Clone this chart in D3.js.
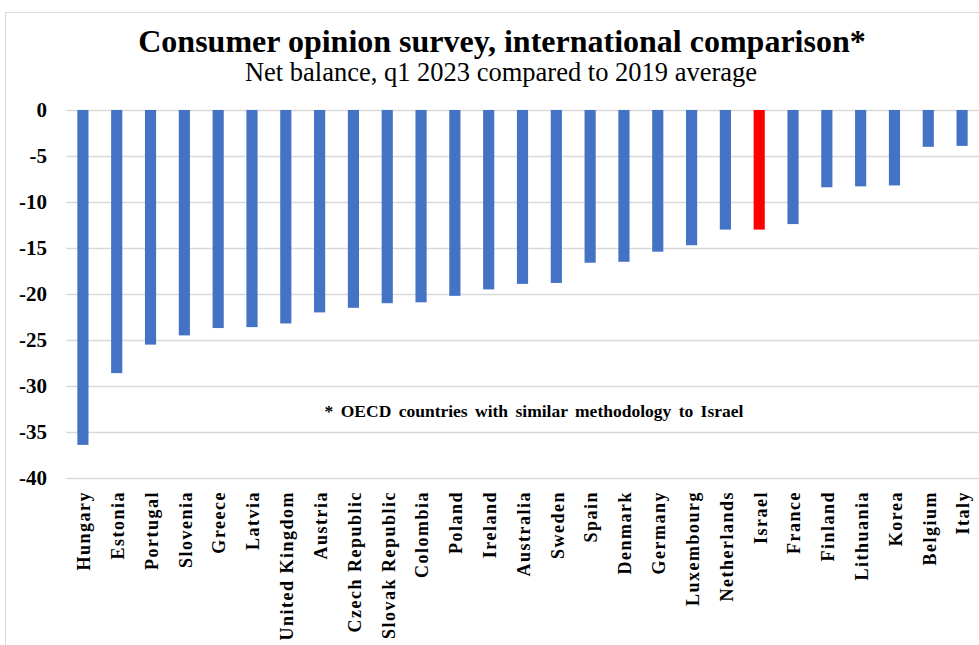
<!DOCTYPE html>
<html><head><meta charset="utf-8">
<script src="https://cdn.jsdelivr.net/npm/d3@7"></script>
<style>body{margin:0;background:#fff}svg{display:block}</style>
</head><body>
<svg id="c" width="979" height="645"></svg>
<script>
const categories = ["Hungary","Estonia","Portugal","Slovenia","Greece","Latvia","United Kingdom","Austria","Czech Republic","Slovak Republic","Colombia","Poland","Ireland","Australia","Sweden","Spain","Denmark","Germany","Luxembourg","Netherlands","Israel","France","Finland","Lithuania","Korea","Belgium","Italy"];
const values = [-36.4,-28.6,-25.5,-24.5,-23.7,-23.6,-23.2,-22.0,-21.5,-21.0,-20.9,-20.2,-19.5,-18.9,-18.8,-16.6,-16.5,-15.4,-14.7,-13.0,-13.0,-12.4,-8.4,-8.3,-8.2,-4.0,-3.9];
const highlight = "Israel";
const yTicks = [0,-5,-10,-15,-20,-25,-30,-35,-40];
const title = "Consumer opinion survey, international comparison*";
const subtitle = "Net balance, q1 2023 compared to 2019 average";
const note = "* OECD countries with similar methodology to Israel";

const svg = d3.select("#c");
const font = "'Liberation Serif','Times New Roman',serif";
svg.append("rect").attr("x",5.5).attr("y",12.5).attr("width",1000).attr("height",1000)
  .attr("fill","none").attr("stroke","#d9d9d9");

const x = d3.scaleBand().domain(categories).range([66,979]).paddingInner(0.67).paddingOuter(0.335);
const y = d3.scaleLinear().domain([-40,0]).range([478,110]);

const yAxis = svg.append("g").attr("transform","translate(66,0)")
  .call(d3.axisLeft(y).tickValues(yTicks).tickSize(-913).tickFormat(d3.format("d")));
yAxis.select(".domain").remove();
yAxis.selectAll(".tick line").attr("stroke","#d9d9d9").attr("stroke-width",1.3);
yAxis.selectAll(".tick text").attr("x",-19).attr("font-family",font).attr("font-weight","bold")
  .attr("font-size",21).attr("fill","#000").text(d=>d===0?"0":"-"+Math.abs(d));

svg.append("g").selectAll("rect").data(categories).join("rect")
  .attr("x",d=>x(d)).attr("width",x.bandwidth())
  .attr("y",y(0)).attr("height",(d,i)=>y(values[i])-y(0))
  .attr("fill",d=>d===highlight?"#ff0000":"#4472c4");

const xAxis = svg.append("g").attr("transform","translate(0,478)")
  .call(d3.axisBottom(x).tickSize(0));
xAxis.select(".domain").remove();
xAxis.selectAll(".tick text").attr("transform","rotate(-90)").attr("text-anchor","end")
  .attr("x",-13).attr("y",1).attr("dy","0.35em")
  .attr("font-family",font).attr("font-weight","bold").attr("font-size",18)
  .attr("letter-spacing","1.5px").attr("fill","#000");

svg.append("text").attr("x",502).attr("y",52).attr("text-anchor","middle")
  .attr("font-family",font).attr("font-weight","bold").attr("font-size",32).attr("fill","#000").text(title);
svg.append("text").attr("x",501).attr("y",81).attr("text-anchor","middle")
  .attr("font-family",font).attr("font-size",26.5).attr("fill","#000").text(subtitle);
svg.append("text").attr("x",534).attr("y",417).attr("text-anchor","middle")
  .attr("font-family",font).attr("font-weight","bold").attr("font-size",17.5).attr("word-spacing","3px").attr("fill","#000").text(note);
</script>
</body></html>
